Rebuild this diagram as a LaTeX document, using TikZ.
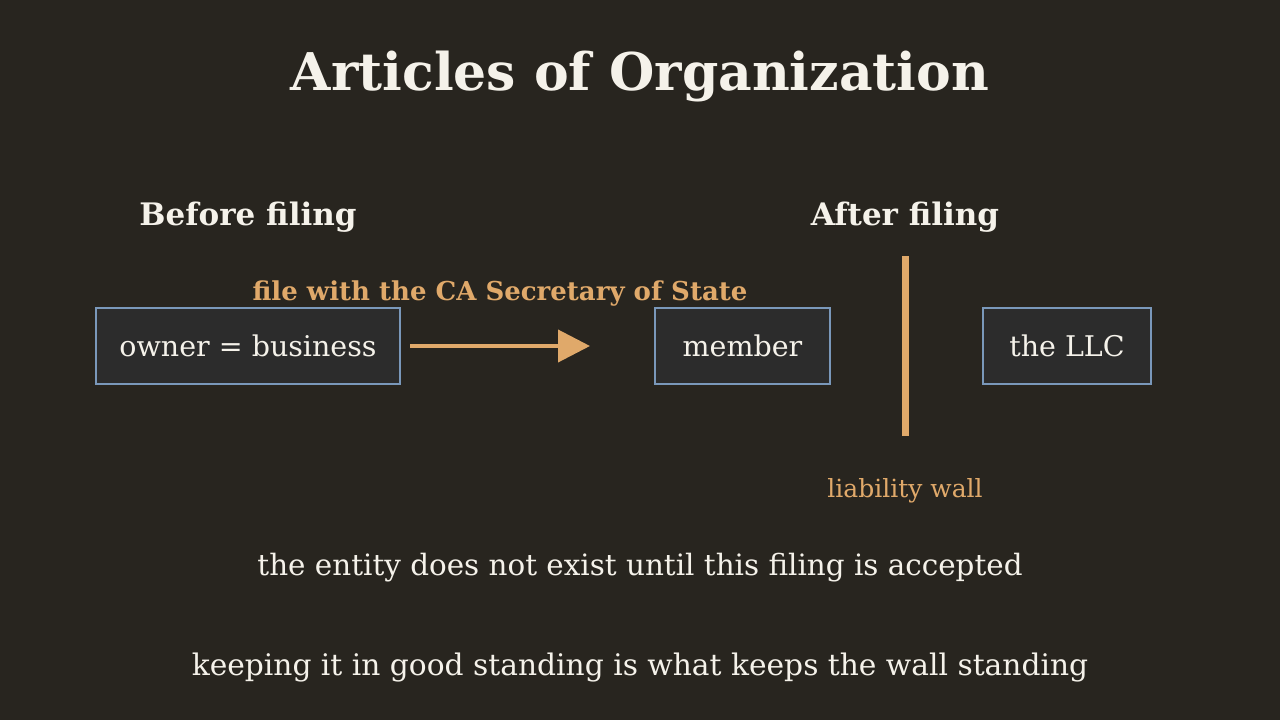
\documentclass[tikz,border=0pt]{standalone}
\usepackage{fontspec}
\setmainfont{DejaVu Serif}
\usetikzlibrary{arrows.meta}
\definecolor{bg}{HTML}{28251F}
\definecolor{boxfill}{HTML}{2C2C2C}
\definecolor{boxline}{HTML}{7A98BA}
\definecolor{accent}{HTML}{E0A96A}
\definecolor{ink}{HTML}{F5F2EA}
\tikzset{
  stagebox/.style={draw=boxline, line width=2pt, fill=boxfill, text=ink, font=\fontsize{28.5}{32}\selectfont, minimum height=76pt, inner sep=0pt},
  lbl/.style={anchor=base, inner sep=0pt},
}
\begin{document}
\begin{tikzpicture}[x=1pt,y=-1pt]
\useasboundingbox[fill=bg] (0,0) rectangle (1280,720);
\node[lbl, text=ink, font=\fontsize{52}{58}\selectfont\bfseries] (title) at (640,90) {Articles of Organization};
\node[lbl, text=ink, font=\fontsize{31}{35}\selectfont\bfseries] (before) at (248,225) {Before filing};
\node[lbl, text=ink, font=\fontsize{31}{35}\selectfont\bfseries] (after) at (905,225) {After filing};
\node[lbl, text=accent, font=\fontsize{26}{30}\selectfont\bfseries] (filelbl) at (500,300) {file with the CA Secretary of State};
\node[stagebox, minimum width=304pt] (owner) at (248,346) {owner = business};
\node[stagebox, minimum width=175pt] (member) at (742.5,346) {member};
\node[stagebox, minimum width=168pt] (llc) at (1067,346) {the LLC};
\coordinate (a1) at (410,346);
\coordinate (a2) at (590,346);
\draw[accent, line width=4pt, -{Triangle[length=32pt,width=32pt]}] (a1) -- (a2);
\coordinate (w1) at (905.5,256);
\coordinate (w2) at (905.5,436);
\draw[accent, line width=7pt] (w1) -- (w2);
\node[lbl, text=accent, font=\fontsize{25}{29}\selectfont] (wall) at (905,497) {liability wall};
\node[lbl, text=ink, font=\fontsize{29.4}{33}\selectfont] (note1) at (640,575) {the entity does not exist until this filing is accepted};
\node[lbl, text=ink, font=\fontsize{29.7}{34}\selectfont] (note2) at (640,675) {keeping it in good standing is what keeps the wall standing};
\end{tikzpicture}
\end{document}
